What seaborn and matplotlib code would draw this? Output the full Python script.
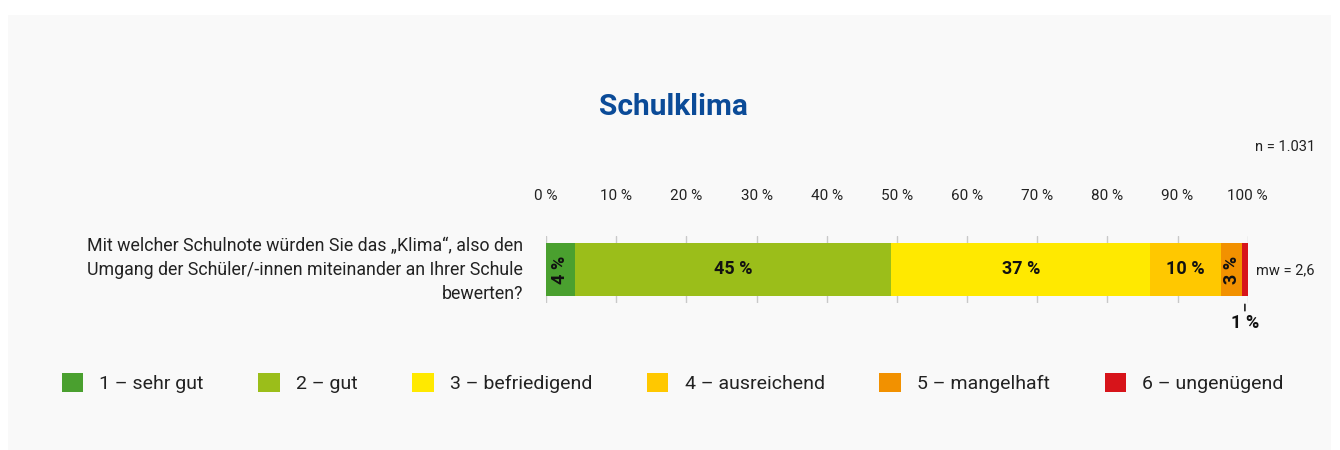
import matplotlib
matplotlib.use("Agg")
import matplotlib.pyplot as plt
import seaborn as sns
import pandas as pd
import numpy as np
from matplotlib.patches import Rectangle, Patch

# ---- data ----
question = "Mit welcher Schulnote würden Sie das „Klima“, also den\nUmgang der Schüler/-innen miteinander an Ihrer Schule\nbewerten?"
categories = ["1 – sehr gut", "2 – gut", "3 – befriedigend", "4 – ausreichend", "5 – mangelhaft", "6 – ungenügend"]
values = [4.1, 45.1, 36.9, 10.1, 3.0, 0.8]
value_labels = ["4 %", "45 %", "37 %", "10 %", "3 %", "1 %"]
colors = ["#4aa02f", "#9bbe1a", "#ffe900", "#ffc800", "#f29100", "#d7141a"]
ticks = [0, 10, 20, 30, 40, 50, 60, 70, 80, 90, 100]
tick_labels = [f"{t} %" for t in ticks]
title = "Schulklima"
n_text = "n = 1.031"
mw_text = "mw = 2,6"

sns.set_theme(style="white")
plt.rcParams['font.family'] = ['Roboto', 'DejaVu Sans']

W, H = 1340, 450
fig = plt.figure(figsize=(W / 100, H / 100), dpi=100)
fig.patch.set_facecolor("white")
fig.patches.append(Rectangle((8 / W, 0), (1331 - 8) / W, (H - 15) / H,
                             transform=fig.transFigure, facecolor="#f9f9f9",
                             edgecolor="none", zorder=-10))

def fx(px):
    return px / W

def fy(py):
    return 1 - py / H

# axes: x 546..1247.7 (0..100%), y 236..303 (bar 243..296)
x0, x1 = 546, 1247.7
y0, y1 = 236, 303
ax = fig.add_axes([fx(x0), fy(y1), (x1 - x0) / W, (y1 - y0) / H])
ax.set_facecolor("none")

cum = np.cumsum(values)
df = pd.DataFrame({"cat": categories, "end": cum, "row": ["q"] * len(categories)})

# draw stacked: largest cumulative first
for i in range(len(categories) - 1, -1, -1):
    sns.barplot(data=df.iloc[[i]], x="end", y="row", orient="h", color=colors[i],
                width=1.0, saturation=1, ax=ax, zorder=2, edgecolor="none", linewidth=0)

half = 0.5 * (y1 - y0) / (296 - 243)
ax.set_ylim(half, -half)
ax.set_xlim(0, 100)
ax.set_ylabel("")
ax.set_xlabel("")
ax.set_yticks([])
for s in ax.spines.values():
    s.set_visible(False)

# grid lines
for t in ticks:
    ax.axvline(t, color="#c9c9c9", lw=1, zorder=1)

ax.xaxis.tick_top()
ax.set_xticks(ticks)
ax.set_xticklabels(tick_labels, fontsize=11, color="#222222")
ax.tick_params(axis="x", length=0, pad=24)

# value labels
starts = np.concatenate([[0], cum[:-1]])
for i, (s, v, lab) in enumerate(zip(starts, values, value_labels)):
    c = s + v / 2
    if v >= 8:
        ax.text(c, 0, lab, ha="center", va="center", fontsize=13, fontweight="bold", color="#111111", zorder=5)
    elif v >= 2:
        ax.text(c, 0, lab, ha="center", va="center", fontsize=13, fontweight="bold", color="#111111",
                rotation=90, zorder=5)
    else:
        ax.annotate(lab, xy=(c, 0.5), xytext=(c, 0.5 + 27 / 53), ha="center", va="center",
                    fontsize=13, fontweight="bold", color="#111111", annotation_clip=False,
                    arrowprops=dict(arrowstyle="-", color="#222222", lw=1.2, shrinkA=0, shrinkB=6))

# question text
fig.text(fx(523), fy(270), question, ha="right", va="center", fontsize=12.8, color="#222222",
         linespacing=1.4)
fig.text(fx(1256), fy(270), mw_text, ha="left", va="center", fontsize=10.5, color="#222222")
fig.text(fx(1315), fy(147), n_text, ha="right", va="center", fontsize=10.5, color="#222222")
fig.text(fx(673), fy(107), title, ha="center", va="center", fontsize=21.5, fontweight="bold",
         color="#0b4b98")

# legend
handles = [Patch(facecolor=c, edgecolor="none") for c in colors]
leg = fig.legend(handles, categories, loc="center left", bbox_to_anchor=(fx(44), fy(383)),
                 ncol=6, frameon=False, fontsize=14, handlelength=1.1, handleheight=1.1,
                 handletextpad=0.85, columnspacing=2.8, labelcolor="#222222")

fig.savefig("out.png", dpi=100, facecolor=fig.get_facecolor())
